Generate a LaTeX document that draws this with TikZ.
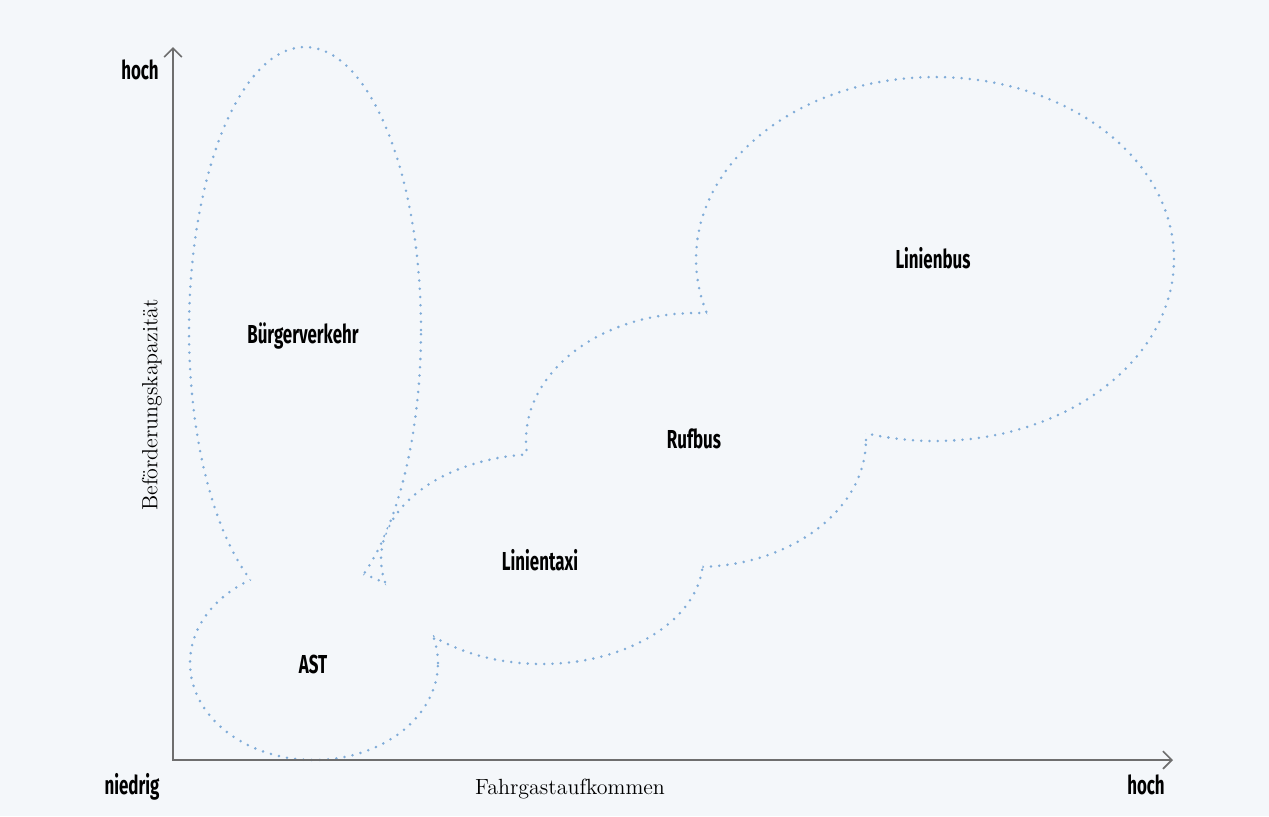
\documentclass[tikz,border=0pt]{standalone}
\usepackage{fontspec}
\usepackage{tikz}
\usetikzlibrary{arrows.meta, positioning}
\newfontfamily\tagfont[FakeStretch=0.65]{Fira Sans}
\definecolor{chartBg}{HTML}{F4F7FA}
\definecolor{regionBlue}{HTML}{80ACD8}
\definecolor{axisGray}{HTML}{6E6E6E}

\tikzset{
  axis/.style={draw=axisGray, line width=1pt},
  region/.style={draw=regionBlue, line width=1.6pt, line cap=round, dash pattern=on 0pt off 4.7pt},
  tag/.style={font=\tagfont\bfseries\fontsize{14.8}{17}\selectfont, text=black, inner sep=0pt},
  title/.style={font=\fontsize{12.5}{15}\selectfont, inner sep=0pt},
}

\begin{document}
\begin{tikzpicture}[x=0.02cm, y=-0.02cm]
\fill[chartBg] (0,0) rectangle (1269,816);
\useasboundingbox (0,0) rectangle (1269,816);

% regions (each ellipse clipped outside its neighbours)
\begin{scope}[even odd rule]
  \clip (0,0) rectangle (1269,816) (314,663) ellipse (2.48cm and 1.94cm);
  \clip (0,0) rectangle (1269,816) (542,559) ellipse (3.22cm and 2.10cm);
  \draw[region] (305,330) ellipse (2.32cm and 5.66cm);
\end{scope}
\begin{scope}[even odd rule]
  \clip (0,0) rectangle (1269,816) (305,330) ellipse (2.32cm and 5.66cm);
  \clip (0,0) rectangle (1269,816) (542,559) ellipse (3.22cm and 2.10cm);
  \draw[region] (314,663) ellipse (2.48cm and 1.94cm);
\end{scope}
\begin{scope}[even odd rule]
  \clip (0,0) rectangle (1269,816) (305,330) ellipse (2.32cm and 5.66cm);
  \clip (0,0) rectangle (1269,816) (314,663) ellipse (2.48cm and 1.94cm);
  \clip (0,0) rectangle (1269,816) (696,440) ellipse (3.40cm and 2.54cm);
  \draw[region] (542,559) ellipse (3.22cm and 2.10cm);
\end{scope}
\begin{scope}[even odd rule]
  \clip (0,0) rectangle (1269,816) (542,559) ellipse (3.22cm and 2.10cm);
  \clip (0,0) rectangle (1269,816) (935,259) ellipse (4.78cm and 3.64cm);
  \draw[region] (696,440) ellipse (3.40cm and 2.54cm);
\end{scope}
\begin{scope}[even odd rule]
  \clip (0,0) rectangle (1269,816) (696,440) ellipse (3.40cm and 2.54cm);
  \draw[region] (935,259) ellipse (4.78cm and 3.64cm);
\end{scope}

% axes
\coordinate (origin) at (173,760);
\coordinate (ytip) at (173,47);
\coordinate (xtip) at (1173,760);
\draw[axis, {Straight Barb[length=5pt, width=10pt]}-{Straight Barb[length=5pt, width=10pt]}]
  (ytip) -- (origin) -- (xtip);

\node[tag, anchor=base] (yhigh) at (140,79) {hoch};
\node[tag, anchor=base] (xlow) at (132,794) {niedrig};
\node[tag, anchor=base] (xhigh) at (1146,794) {hoch};
\node[title, anchor=base] (xtitle) at (570,794) {Fahrgastaufkommen};
\node[title, rotate=90] (ytitle) at (152,405) {Beförderungskapazität};

\node[tag, anchor=base] (bv) at (303,343) {Bürgerverkehr};
\node[tag, anchor=base] (ast) at (313,673) {AST};
\node[tag, anchor=base] (taxi) at (540,570) {Linientaxi};
\node[tag, anchor=base] (rufbus) at (694,448) {Rufbus};
\node[tag, anchor=base] (bus) at (933,268) {Linienbus};
\end{tikzpicture}
\end{document}
